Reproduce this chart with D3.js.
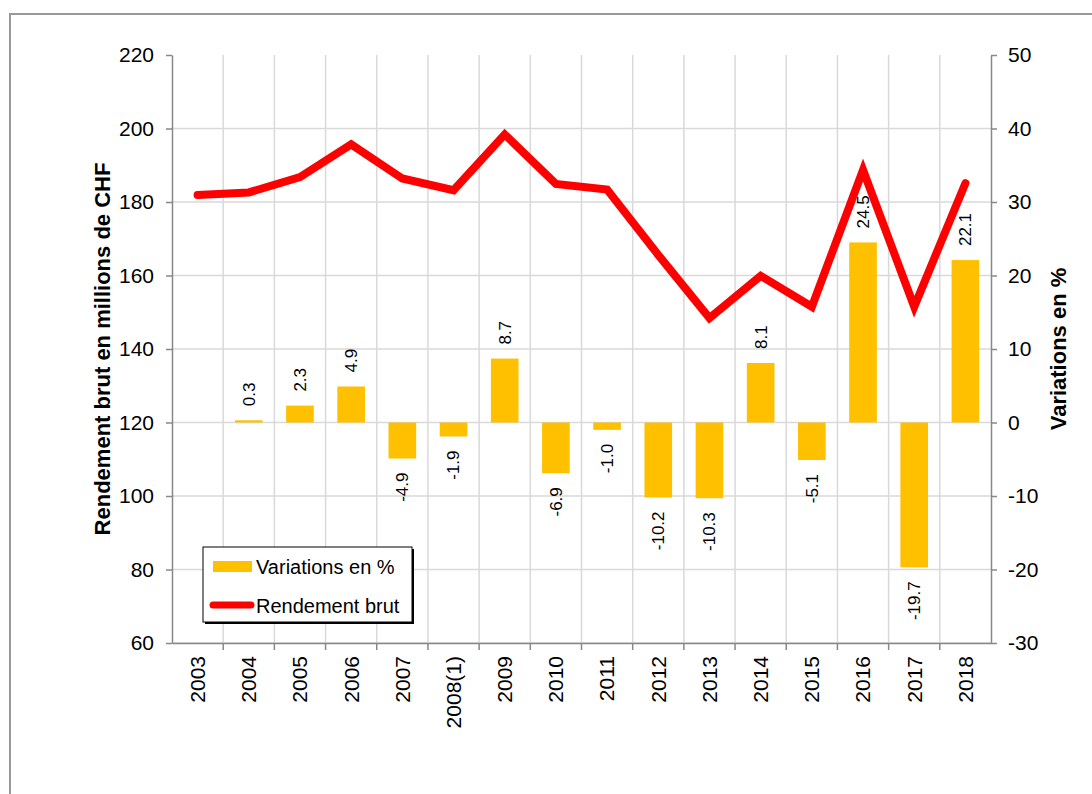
<!DOCTYPE html>
<html>
<head>
<meta charset="utf-8">
<script src="https://cdn.jsdelivr.net/npm/d3@7"></script>
<style>
  body { margin: 0; background: #fff; }
  svg { display: block; font-family: "Liberation Sans", Arial, sans-serif; }
</style>
</head>
<body>
<div id="container"></div>
<script>
const years = ["2003", "2004", "2005", "2006", "2007", "2008(1)", "2009", "2010",
               "2011", "2012", "2013", "2014", "2015", "2016", "2017", "2018"];
const rendement = [181.9, 182.6, 186.8, 195.7, 186.4, 183.2, 198.4, 184.9,
                   183.4, 165.6, 148.4, 159.9, 151.5, 188.7, 151.5, 185.1];
const variations = [null, 0.3, 2.3, 4.9, -4.9, -1.9, 8.7, -6.9,
                    -1.0, -10.2, -10.3, 8.1, -5.1, 24.5, -19.7, 22.1];
const leftTicks = [60, 80, 100, 120, 140, 160, 180, 200, 220];
const rightTicks = [-30, -20, -10, 0, 10, 20, 30, 40, 50];
const legendLabels = ["Variations en %", "Rendement brut"];

const WIDTH = 1092,
      HEIGHT = 794;

const margin = {
    top: 55,
    bottom: 151,
    right: 101,
    left: 172,
};

const width = WIDTH - margin.left - margin.right,
      height = HEIGHT - margin.top - margin.bottom;

const svg = d3.select('#container').append('svg')
    .attr("width", WIDTH).attr("height", HEIGHT);

// outer frame (top and left edges only visible)
svg.append("path")
    .attr("d", `M10,${HEIGHT} L10,14 L${WIDTH},14`)
    .attr("fill", "none")
    .attr("stroke", "#999")
    .attr("stroke-width", 2);

const container = svg.append('g')
    .attr("transform", `translate(${margin.left}, ${margin.top})`);

const xScale = d3.scaleBand()
    .domain(years)
    .range([0, width]);

const yLeft = d3.scaleLinear()
    .domain([60, 220])
    .range([height, 0]);

const yRight = d3.scaleLinear()
    .domain([-30, 50])
    .range([height, 0]);

// plain hyphen for negatives, like the original
const fmtInt = (d) => String(d);
const fmtOne = (d) => d.toFixed(1);

// grid
container.append("g")
    .selectAll("line")
    .data(leftTicks.slice(0, -1))
    .join("line")
    .attr("x1", 0).attr("x2", width)
    .attr("y1", d => yLeft(d)).attr("y2", d => yLeft(d))
    .attr("stroke", "#d9d9d9")
    .attr("stroke-width", 1.5);

container.append("g")
    .selectAll("line")
    .data(years.slice(1))
    .join("line")
    .attr("x1", d => xScale(d)).attr("x2", d => xScale(d))
    .attr("y1", 0).attr("y2", height)
    .attr("stroke", "#d9d9d9")
    .attr("stroke-width", 1.5);

// axes
const styleAxis = (g) => {
    g.select(".domain").attr("stroke", "#888").attr("stroke-width", 1.5);
    g.selectAll(".tick line").attr("stroke", "#888").attr("stroke-width", 1.5);
    g.selectAll("text").attr("fill", "#000").style("font-family", "Liberation Sans, Arial, sans-serif");
};

container.append("g")
    .call(d3.axisLeft(yLeft).tickValues(leftTicks).tickFormat(fmtInt)
              .tickSize(6).tickPadding(12).tickSizeOuter(0))
    .call(styleAxis)
    .selectAll("text")
    .style("font-size", "21px");

container.append("g")
    .attr("transform", `translate(${width}, 0)`)
    .call(d3.axisRight(yRight).tickValues(rightTicks).tickFormat(fmtInt)
              .tickSize(6).tickPadding(11).tickSizeOuter(0))
    .call(styleAxis)
    .selectAll("text")
    .style("font-size", "21px");

const xAxisG = container.append("g")
    .attr("transform", `translate(0, ${height})`)
    .call(d3.axisBottom(xScale).tickSize(0).tickSizeOuter(0))
    .call(styleAxis);

xAxisG.selectAll(".tick text")
    .style("font-size", "21px")
    .attr("text-anchor", "end")
    .attr("transform", "rotate(-90)")
    .attr("x", -13)
    .attr("y", 0)
    .attr("dy", "0.35em");

// tick marks between categories on the x axis
xAxisG.append("g")
    .selectAll("line")
    .data(years.slice(1))
    .join("line")
    .attr("x1", d => xScale(d)).attr("x2", d => xScale(d))
    .attr("y1", 0).attr("y2", 7)
    .attr("stroke", "#888")
    .attr("stroke-width", 1.5);

// axis titles
svg.append("text")
    .attr("transform", `translate(102, ${margin.top + height / 2}) rotate(-90)`)
    .attr("text-anchor", "middle")
    .attr("dy", "0.35em")
    .style("font-size", "22px")
    .style("font-weight", "bold")
    .text("Rendement brut en millions de CHF");

svg.append("text")
    .attr("transform", `translate(1058, ${margin.top + height / 2}) rotate(-90)`)
    .attr("text-anchor", "middle")
    .attr("dy", "0.35em")
    .style("font-size", "22px")
    .style("font-weight", "bold")
    .text("Variations en %");

// bars
const barData = years.map((y, i) => ({ year: y, value: variations[i] }))
    .filter(d => d.value !== null);

const barWidth = xScale.bandwidth() * 0.54;

container.append("g")
    .selectAll("rect")
    .data(barData)
    .join("rect")
    .attr("x", d => xScale(d.year) + (xScale.bandwidth() - barWidth) / 2)
    .attr("width", barWidth)
    .attr("y", d => yRight(Math.max(0, d.value)))
    .attr("height", d => Math.abs(yRight(d.value) - yRight(0)))
    .attr("fill", "#ffc000");

container.append("g")
    .selectAll("text")
    .data(barData)
    .join("text")
    .attr("transform", d => {
        const cx = xScale(d.year) + xScale.bandwidth() / 2;
        const cy = d.value >= 0 ? yRight(d.value) - 14 : yRight(d.value) + 14;
        return `translate(${cx}, ${cy}) rotate(-90)`;
    })
    .attr("text-anchor", d => d.value >= 0 ? "start" : "end")
    .attr("dy", "0.35em")
    .style("font-size", "17px")
    .text(d => fmtOne(d.value));

// line
const line = d3.line()
    .x((d, i) => xScale(years[i]) + xScale.bandwidth() / 2)
    .y(d => yLeft(d));

container.append("path")
    .datum(rendement)
    .attr("d", line)
    .attr("fill", "none")
    .attr("stroke", "#ff0000")
    .attr("stroke-width", 8)
    .attr("stroke-linejoin", "miter")
    .attr("stroke-linecap", "round");

// legend
const legend = svg.append("g").attr("transform", "translate(203, 547)");

legend.append("rect")
    .attr("x", 2).attr("y", 2)
    .attr("width", 209).attr("height", 75)
    .attr("fill", "#000");

legend.append("rect")
    .attr("width", 209).attr("height", 75)
    .attr("fill", "#fff")
    .attr("stroke", "#000")
    .attr("stroke-width", 1);

legend.append("rect")
    .attr("x", 10).attr("y", 14)
    .attr("width", 39).attr("height", 11)
    .attr("fill", "#ffc000");

legend.append("line")
    .attr("x1", 10).attr("x2", 48)
    .attr("y1", 58).attr("y2", 58)
    .attr("stroke", "#ff0000")
    .attr("stroke-width", 7)
    .attr("stroke-linecap", "round");

legend.selectAll("text.lbl")
    .data(legendLabels)
    .join("text")
    .attr("class", "lbl")
    .attr("x", 53)
    .attr("y", (d, i) => 20 + i * 39)
    .attr("dy", "0.35em")
    .style("font-size", "20px")
    .text(d => d);
</script>
</body>
</html>
